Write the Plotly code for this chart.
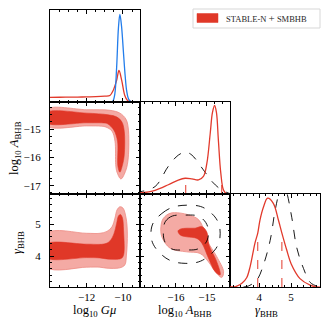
import numpy as np
import plotly.graph_objects as go

# ---------------- data ----------------
# 1D: log10 G mu
gmu_red_x = [-14.2, -13.5, -13.0, -12.5, -12.0, -11.5, -11.0, -10.72, -10.54, -10.35, -10.22, -10.07, -9.9, -9.75, -9.6, -9.0]
gmu_red_y = [0.045, 0.046, 0.047, 0.048, 0.05, 0.052, 0.058, 0.065, 0.12, 0.23, 0.337, 0.23, 0.065, 0.01, 0.0, 0.0]
gmu_blue_x = [-10.6, -10.55, -10.45, -10.35, -10.25, -10.17, -10.08, -9.98, -9.88, -9.8, -9.7, -9.58]
gmu_blue_y = [0.0, 0.005, 0.08, 0.37, 0.8, 0.946, 0.82, 0.55, 0.28, 0.12, 0.03, 0.0]

# 1D: log10 A_BHB
a_red_x = [-17.3, -17.2, -16.67, -16.24, -15.92, -15.7, -15.48, -15.27, -15.11, -15.0, -14.89, -14.82, -14.75, -14.69, -14.63, -14.55, -14.46, -14.35, -14.2]
a_red_y = [0.005, 0.008, 0.04, 0.1, 0.15, 0.17, 0.163, 0.152, 0.19, 0.33, 0.66, 0.88, 0.957, 0.88, 0.59, 0.225, 0.04, 0.0, 0.0]
a_pri_x = [-17.3, -17.2, -16.67, -16.24, -15.92, -15.68, -15.48, -15.11, -14.82, -14.55, -14.3, -14.2]
a_pri_y = [0.012, 0.02, 0.08, 0.3, 0.42, 0.453, 0.42, 0.26, 0.13, 0.05, 0.01, 0.005]
a_quant = [-15.68, -14.52]

# 1D: gamma_BHB
g_red_x = [3.0, 3.2, 3.29, 3.45, 3.6, 3.71, 3.86, 3.95, 4.02, 4.13, 4.26, 4.44, 4.6, 4.71, 4.86, 5.0, 5.28, 5.6, 5.81, 6.0]
g_red_y = [0.0, 0.002, 0.01, 0.04, 0.1, 0.22, 0.47, 0.58, 0.72, 0.86, 0.955, 0.9, 0.72, 0.58, 0.4, 0.25, 0.09, 0.02, 0.0, 0.0]
g_pri_x = [3.5, 3.65, 3.92, 4.13, 4.34, 4.5, 4.65, 4.76, 4.86, 5.02, 5.18, 5.39, 5.6, 5.81, 6.0]
g_pri_y = [0.0, 0.01, 0.075, 0.24, 0.5, 0.83, 1.04, 1.1, 1.02, 0.75, 0.42, 0.2, 0.05, 0.01, 0.0]
g_quant = [3.95, 4.71]

# 2D: G mu vs A_BHB
ga_light_x = [-14.2, -12.0, -10.72, -10.17, -9.84, -9.71, -9.71, -9.84, -10.11, -10.33, -10.4, -10.44, -10.61, -10.94, -11.17, -12.0, -14.2, -14.2]
ga_light_y = [-14.31, -14.32, -14.34, -14.44, -14.65, -14.96, -16.02, -16.45, -16.76, -16.52, -16.26, -15.43, -15.07, -14.93, -14.9, -14.89, -14.89, -14.31]
ga_dark_x = [-14.2, -12.0, -10.81, -10.33, -10.06, -9.93, -9.93, -10.03, -10.17, -10.28, -10.3, -10.5, -10.83, -11.0, -12.0, -14.2, -14.2]
ga_dark_y = [-14.42, -14.44, -14.5, -14.58, -14.75, -15.08, -15.91, -16.27, -16.52, -16.31, -15.43, -15.04, -14.82, -14.79, -14.78, -14.78, -14.42]

# 2D: G mu vs gamma_BHB
gg_light_x = [-14.2, -12.0, -11.27, -10.88, -10.61, -10.44, -10.33, -10.17, -10.0, -9.83, -9.76, -9.81, -9.9, -10.17, -10.9, -11.27, -12.0, -14.2, -14.2]
gg_light_y = [4.71, 4.71, 4.71, 4.77, 4.91, 5.19, 5.44, 5.54, 5.5, 5.19, 4.72, 4.03, 3.72, 3.63, 3.62, 3.65, 3.65, 3.65, 4.71]
gg_dark_x = [-14.2, -12.0, -11.0, -10.72, -10.5, -10.35, -10.25, -10.14, -10.03, -9.97, -9.97, -10.11, -10.9, -11.27, -12.0, -14.2, -14.2]
gg_dark_y = [4.37, 4.37, 4.38, 4.47, 4.69, 5.02, 5.25, 5.3, 5.19, 4.81, 4.03, 3.92, 3.91, 3.94, 3.95, 3.95, 4.37]

# 2D: A_BHB vs gamma_BHB
ag_light_x = [-16.13, -15.32, -15.11, -15.0, -14.68, -14.46, -14.52, -14.73, -14.95, -15.22, -15.65, -16.18, -16.45, -16.48, -16.4, -16.13]
ag_light_y = [5.35, 5.18, 4.87, 4.5, 3.98, 3.51, 3.33, 3.51, 3.82, 4.08, 4.13, 4.24, 4.6, 4.92, 5.18, 5.35]
ag_dark_x = [-15.86, -15.64, -15.38, -15.16, -15.0, -14.93, -14.7, -14.57, -14.73, -14.95, -15.16, -15.32, -15.65, -15.86, -15.93, -15.86]
ag_dark_y = [4.84, 4.87, 4.87, 4.92, 4.75, 4.34, 3.87, 3.41, 3.51, 3.94, 4.4, 4.55, 4.6, 4.66, 4.78, 4.84]
ell_out_x = [-16.8, -16.45, -15.65, -14.9, -14.57, -14.9, -15.7, -16.5, -16.8]
ell_out_y = [4.76, 5.33, 5.59, 5.38, 4.71, 4.03, 3.77, 4.08, 4.76]
ell_in_x = [-16.4, -16.24, -15.7, -15.16, -14.95, -15.16, -15.7, -16.24, -16.4]
ell_in_y = [4.81, 5.18, 5.28, 5.18, 4.71, 4.29, 4.19, 4.29, 4.81]

# axis ranges / ticks
gmu_range = [-14.02, -9.09]
a_xrange = [-17.17, -14.27]
a_yrange = [-17.29, -14.03]
g_xrange = [3.06, 5.91]
g_yrange = [3.03, 5.94]
gmu_ticks = [-12, -10]
a_xticks = [-16, -15]
a_yticks = [-17, -16, -15]
g_ticks = [4, 5]
legend_label = 'STABLE-N <span style="font-size:11px">+</span> SMBHB'

# ---------------- style ----------------
RED = 'rgb(226,58,44)'
DARK = 'rgb(224,56,40)'
LIGHT = 'rgb(244,170,164)'
LIGHT_EDGE = 'rgb(238,140,132)'
BLUE = 'rgb(35,125,235)'
FONT = 'Liberation Serif'
W, H = 330, 322


def px(x):
    return x / W


def py(y):
    return 1 - y / H


cols = [(50, 139.5), (139.5, 229.5), (229.5, 320)]
rows = [(9.5, 101.5), (101.5, 194), (194, 287)]

fig = go.Figure()


def sc(x, y, ax, **kw):
    fig.add_trace(go.Scatter(x=x, y=y, xaxis='x' + ax, yaxis='y' + ax, mode='lines',
                             hoverinfo='skip', showlegend=False, **kw))


def quant(xs, cx, cy, ax):
    for q in xs:
        h = float(np.interp(q, cx, cy))  # curve height at the quantile
        sc([q, q], [0, h], ax, line=dict(color=RED, width=1, dash='dash'))


# panel 1: Gmu 1D
sc(gmu_red_x, gmu_red_y, '', line=dict(color=RED, width=1.3, shape='spline'))
sc(gmu_blue_x, gmu_blue_y, '', line=dict(color=BLUE, width=1.3, shape='spline'))

# panel 2: Gmu vs A
sc(ga_light_x, ga_light_y, '2', fill='toself', fillcolor=LIGHT,
   line=dict(color=LIGHT_EDGE, width=0.8, shape='spline'))
sc(ga_dark_x, ga_dark_y, '2', fill='toself', fillcolor=DARK,
   line=dict(color=DARK, width=0.6, shape='spline'))

# panel 3: A 1D
sc(a_pri_x, a_pri_y, '3', line=dict(color='black', width=0.9, dash='dash', shape='spline'))
sc(a_red_x, a_red_y, '3', line=dict(color=RED, width=1.3, shape='spline'))
quant(a_quant, a_red_x, a_red_y, '3')

# panel 4: Gmu vs gamma
sc(gg_light_x, gg_light_y, '4', fill='toself', fillcolor=LIGHT,
   line=dict(color=LIGHT_EDGE, width=0.8, shape='spline'))
sc(gg_dark_x, gg_dark_y, '4', fill='toself', fillcolor=DARK,
   line=dict(color=DARK, width=0.6, shape='spline'))

# panel 5: A vs gamma
sc(ag_light_x, ag_light_y, '5', fill='toself', fillcolor=LIGHT,
   line=dict(color=LIGHT_EDGE, width=0.8, shape='spline'))
sc(ag_dark_x, ag_dark_y, '5', fill='toself', fillcolor=DARK,
   line=dict(color=DARK, width=0.6, shape='spline'))
sc(ell_out_x, ell_out_y, '5', line=dict(color='black', width=0.9, dash='dash', shape='spline', smoothing=1.3))
sc(ell_in_x, ell_in_y, '5', line=dict(color='black', width=0.9, dash='dash', shape='spline', smoothing=1.3))

# panel 6: gamma 1D
sc(g_pri_x, g_pri_y, '6', line=dict(color='black', width=0.9, dash='dash', shape='spline'))
sc(g_red_x, g_red_y, '6', line=dict(color=RED, width=1.3, shape='spline'))
quant(g_quant, g_red_x, g_red_y, '6')

tickfont = dict(family=FONT, size=11, color='black')


def common(rng, ticks, minor, labels, standoff):
    return dict(range=rng, tickvals=ticks,
                ticks='inside', ticklen=4, tickwidth=0.8, tickcolor='black',
                minor=dict(dtick=minor, tick0=0, ticks='inside', ticklen=2, tickwidth=0.6, tickcolor='black'),
                showline=True, linecolor='black', linewidth=1, mirror='ticks',
                showgrid=False, zeroline=False, showticklabels=labels, tickfont=tickfont,
                ticklabelstandoff=standoff, automargin=False)


def xax(col, rng, ticks, minor, labels, anchor):
    d = common(rng, ticks, minor, labels, 0)
    d.update(domain=[px(cols[col][0]), px(cols[col][1])], anchor=anchor)
    return d


def yax(row, rng, ticks, minor, labels, anchor):
    d = common(rng, ticks, minor, labels, 6)
    d.update(domain=[py(rows[row][1]), py(rows[row][0])], anchor=anchor)
    return d


def ydiag(row, anchor):
    return dict(domain=[py(rows[row][1]), py(rows[row][0])], range=[0, 1], ticks='',
                showline=True, linecolor='black', linewidth=1, mirror=True,
                showgrid=False, zeroline=False, showticklabels=False, anchor=anchor,
                automargin=False)


fig.update_layout(
    width=W, height=H, margin=dict(l=0, r=0, t=0, b=0, autoexpand=False),
    paper_bgcolor='white', plot_bgcolor='white',
    font=dict(family=FONT, color='black'),
    showlegend=False,
    xaxis=xax(0, gmu_range, gmu_ticks, 0.5, False, 'y'),
    yaxis=ydiag(0, 'x'),
    xaxis2=xax(0, gmu_range, gmu_ticks, 0.5, False, 'y2'),
    yaxis2=yax(1, a_yrange, a_yticks, 0.25, True, 'x2'),
    xaxis3=xax(1, a_xrange, a_xticks, 0.25, False, 'y3'),
    yaxis3=ydiag(1, 'x3'),
    xaxis4=xax(0, gmu_range, gmu_ticks, 0.5, True, 'y4'),
    yaxis4=yax(2, g_yrange, g_ticks, 0.2, True, 'x4'),
    xaxis5=xax(1, a_xrange, a_xticks, 0.25, True, 'y5'),
    yaxis5=yax(2, g_yrange, g_ticks, 0.2, False, 'x5'),
    xaxis6=xax(2, g_xrange, g_ticks, 0.2, True, 'y6'),
    yaxis6=ydiag(2, 'x6'),
)

# legend box drawn by hand (keeps the plot area from being shrunk)
fig.add_shape(type='rect', xref='paper', yref='paper', x0=px(193), x1=px(320), y0=py(28), y1=py(9),
              line=dict(color='rgb(215,215,215)', width=1), fillcolor='white', layer='above')
fig.add_shape(type='rect', xref='paper', yref='paper', x0=px(197), x1=px(218), y0=py(22.5), y1=py(13.5),
              line=dict(color=DARK, width=0.5), fillcolor=DARK, layer='above')
fig.add_annotation(xref='paper', yref='paper', x=px(224), y=py(18.5), xanchor='left', yanchor='middle',
                   text=legend_label, showarrow=False,
                   font=dict(family=FONT, size=8.5, color='rgb(40,40,40)'))

tfont = dict(family=FONT, size=12.5, color='black')
ann = [
    dict(text='log<sub>10</sub> <i>Gμ</i>', x=px(94), y=py(310.5)),
    dict(text='log<sub>10</sub> <i>A</i><sub>BHB</sub>', x=px(185), y=py(310.5)),
    dict(text='<i>γ</i><sub>BHB</sub>', x=px(266), y=py(310.5)),
    dict(text='log<sub>10</sub> <i>A</i><sub>BHB</sub>', x=px(15), y=py(148), textangle=-90),
    dict(text='<i>γ</i><sub>BHB</sub>', x=px(18), y=py(243), textangle=-90),
]
for a in ann:
    fig.add_annotation(xref='paper', yref='paper', showarrow=False, font=tfont,
                       xanchor='center', yanchor='middle', **a)

fig.write_html('out.html', config={'displayModeBar': False},
               post_script="document.body.style.margin='0';document.body.style.overflow='hidden';")
